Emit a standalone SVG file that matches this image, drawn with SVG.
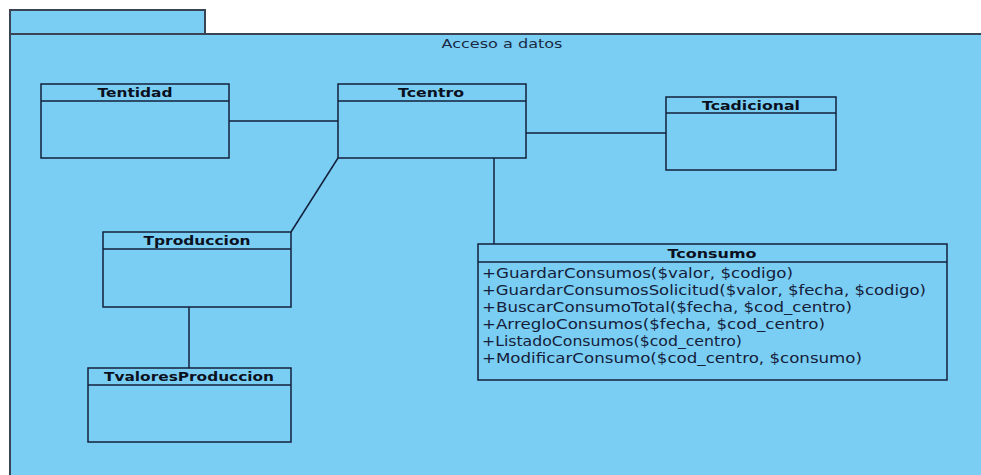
<svg xmlns="http://www.w3.org/2000/svg" width="981" height="475" viewBox="0 0 981 475">
  <style>
    .pkg { fill: #7acef3; stroke: #3a4455; stroke-width: 2; }
    .cls { fill: #7acef3; stroke: #13203d; stroke-width: 1.5; }
    .sep { stroke: #13203d; stroke-width: 1.5; }
    .edge { fill: none; stroke: #13203d; stroke-width: 1.5; }
    .title { font-family: "DejaVu Sans", sans-serif; font-weight: bold; font-size: 13px; fill: #0b1020; text-anchor: middle; }
    .op { font-family: "DejaVu Sans", sans-serif; font-size: 13.5px; fill: #15203a; }
    .pkgname { font-family: "DejaVu Sans", sans-serif; font-size: 13px; fill: #1a2a44; text-anchor: middle; }
  </style>

  <rect x="0" y="0" width="981" height="475" fill="#ffffff"/>

  <!-- package "Acceso a datos" -->
  <g id="pkg-acceso-datos">
    <rect class="pkg" x="10" y="10" width="195" height="24"/>
    <rect class="pkg" x="10" y="34" width="990" height="460"/>
    <text class="pkgname" x="502" y="48" textLength="121" lengthAdjust="spacingAndGlyphs">Acceso a datos</text>
  </g>

  <!-- associations -->
  <g id="connectors">
    <line class="edge" x1="229" y1="121" x2="338" y2="121"/>
    <line class="edge" x1="526" y1="133" x2="666" y2="133"/>
    <line class="edge" x1="494" y1="158" x2="494" y2="244"/>
    <line class="edge" x1="338" y1="158" x2="291" y2="232"/>
    <line class="edge" x1="189" y1="307" x2="189" y2="368"/>
  </g>

  <g id="Tentidad">
    <rect class="cls" x="41" y="84" width="188" height="74"/>
    <line class="sep" x1="41" y1="101" x2="229" y2="101"/>
    <text class="title" x="135" y="97" textLength="75" lengthAdjust="spacingAndGlyphs">Tentidad</text>
  </g>

  <g id="Tcentro">
    <rect class="cls" x="338" y="84" width="188" height="74"/>
    <line class="sep" x1="338" y1="101" x2="526" y2="101"/>
    <text class="title" x="431" y="97" textLength="66" lengthAdjust="spacingAndGlyphs">Tcentro</text>
  </g>

  <g id="Tcadicional">
    <rect class="cls" x="666" y="97" width="170" height="73"/>
    <line class="sep" x1="666" y1="113" x2="836" y2="113"/>
    <text class="title" x="751" y="110" textLength="98" lengthAdjust="spacingAndGlyphs">Tcadicional</text>
  </g>

  <g id="Tproduccion">
    <rect class="cls" x="103" y="232" width="188" height="75"/>
    <line class="sep" x1="103" y1="249" x2="291" y2="249"/>
    <text class="title" x="197" y="245" textLength="107" lengthAdjust="spacingAndGlyphs">Tproduccion</text>
  </g>

  <g id="TvaloresProduccion">
    <rect class="cls" x="88" y="368" width="203" height="74"/>
    <line class="sep" x1="88" y1="385" x2="291" y2="385"/>
    <text class="title" x="189" y="381" textLength="170" lengthAdjust="spacingAndGlyphs">TvaloresProduccion</text>
  </g>

  <g id="Tconsumo">
    <rect class="cls" x="478" y="244" width="469" height="136"/>
    <line class="sep" x1="478" y1="262" x2="947" y2="262"/>
    <text class="title" x="712" y="258" textLength="89" lengthAdjust="spacingAndGlyphs">Tconsumo</text>
    <text class="op" x="482" y="278" textLength="311" lengthAdjust="spacingAndGlyphs">+GuardarConsumos($valor, $codigo)</text>
    <text class="op" x="482" y="295" textLength="444" lengthAdjust="spacingAndGlyphs">+GuardarConsumosSolicitud($valor, $fecha, $codigo)</text>
    <text class="op" x="482" y="312" textLength="370" lengthAdjust="spacingAndGlyphs">+BuscarConsumoTotal($fecha, $cod_centro)</text>
    <text class="op" x="482" y="329" textLength="343" lengthAdjust="spacingAndGlyphs">+ArregloConsumos($fecha, $cod_centro)</text>
    <text class="op" x="482" y="346" textLength="260" lengthAdjust="spacingAndGlyphs">+ListadoConsumos($cod_centro)</text>
    <text class="op" x="482" y="363" textLength="380" lengthAdjust="spacingAndGlyphs">+ModificarConsumo($cod_centro, $consumo)</text>
  </g>
</svg>
